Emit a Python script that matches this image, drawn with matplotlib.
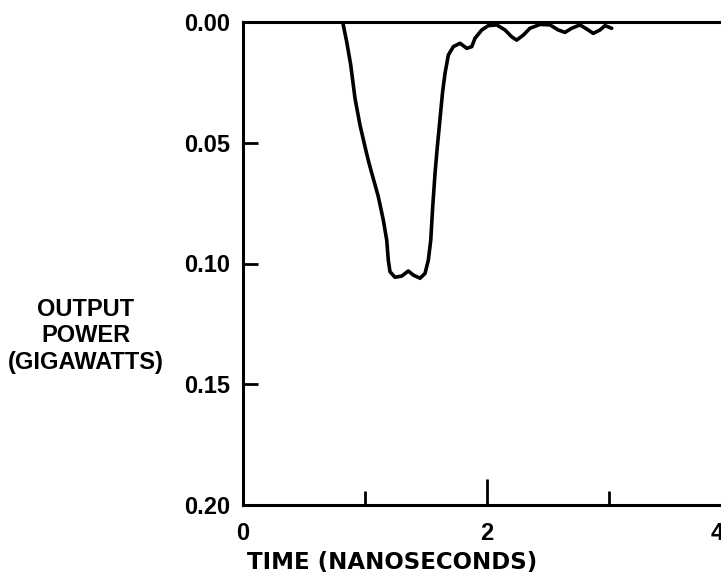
import matplotlib
matplotlib.use("Agg")
import matplotlib.pyplot as plt
import matplotlib.transforms as mtransforms
from matplotlib.ticker import FixedLocator

# pulse (time in ns, power in GW, plotted downward)
time_ns = [0.817, 0.850, 0.883, 0.918, 0.959, 1.0, 1.027, 1.055, 1.109, 1.15,
           1.178, 1.191, 1.205, 1.246, 1.301, 1.355, 1.396, 1.451, 1.492, 1.519,
           1.539, 1.555, 1.574, 1.593, 1.615, 1.636, 1.656, 1.683, 1.724, 1.779,
           1.834, 1.875, 1.902, 1.957, 2.011, 2.080, 2.148, 2.202, 2.243, 2.298,
           2.352, 2.434, 2.516, 2.584, 2.639, 2.694, 2.762, 2.817, 2.871, 2.926,
           2.967, 3.022]
power_gw = [0.0, 0.0082, 0.0178, 0.0316, 0.0427, 0.0516, 0.0573, 0.0625, 0.0723, 0.082,
            0.0903, 0.0986, 0.1034, 0.1057, 0.1052, 0.1031, 0.1048, 0.1061, 0.1041, 0.0986,
            0.0903, 0.0765, 0.0627, 0.0516, 0.040, 0.029, 0.0212, 0.0137, 0.0102, 0.0088,
            0.0109, 0.0102, 0.0067, 0.0033, 0.0015, 0.0012, 0.0033, 0.0061, 0.0075, 0.0054,
            0.0026, 0.001, 0.0012, 0.0033, 0.0043, 0.0026, 0.0012, 0.0029, 0.0047, 0.0033,
            0.0015, 0.0026]

x_ticks = [0, 2, 4]
x_minor = [1, 3]
y_ticks = [0.00, 0.05, 0.10, 0.15, 0.20]
y_labels = ["0.00", "0.05", "0.10", "0.15", "0.20"]

fnt = "Liberation Sans"

fig = plt.figure(figsize=(7.21, 5.81), dpi=100)
ax = fig.add_axes([243 / 721, 1 - 505 / 581, (731 - 243) / 721, (505 - 22) / 581])

ax.plot(time_ns, power_gw, color="black", lw=2.6, solid_joinstyle="round",
        solid_capstyle="round")

ax.set_xlim(0, 4)
ax.set_ylim(0.20, 0.00)

ax.xaxis.set_major_locator(FixedLocator(x_ticks))
ax.xaxis.set_minor_locator(FixedLocator(x_minor))
ax.set_yticks(y_ticks)
ax.set_yticklabels(y_labels)

ax.tick_params(axis="x", which="major", direction="in", length=19, width=2, pad=12,
               labelsize=17)
ax.tick_params(axis="x", which="minor", direction="in", length=10, width=2)
ax.tick_params(axis="y", direction="in", length=11, width=2, pad=9, labelsize=17)
for lbl in ax.get_xticklabels() + ax.get_yticklabels():
    lbl.set_fontfamily(fnt)
    lbl.set_fontweight("bold")

# the "4" sits at the cropped right edge; nudge it in so part of it shows
last = ax.get_xticklabels()[-1]
last.set_transform(last.get_transform()
                   + mtransforms.ScaledTranslation(-10 / 72, 0, fig.dpi_scale_trans))

for side in ["left", "bottom", "top"]:
    ax.spines[side].set_linewidth(2.2)
ax.spines["right"].set_visible(False)

fig.text(392 / 721, 1 - 563 / 581, "TIME (NANOSECONDS)", ha="center", va="center",
         fontsize=16.5, fontweight="bold", family="DejaVu Sans")
fig.text(86 / 721, 1 - 336 / 581, "OUTPUT\nPOWER\n(GIGAWATTS)", ha="center", va="center",
         multialignment="center", linespacing=1.2, fontsize=17, fontweight="bold",
         family=fnt)

fig.savefig("out.png", dpi=100)
